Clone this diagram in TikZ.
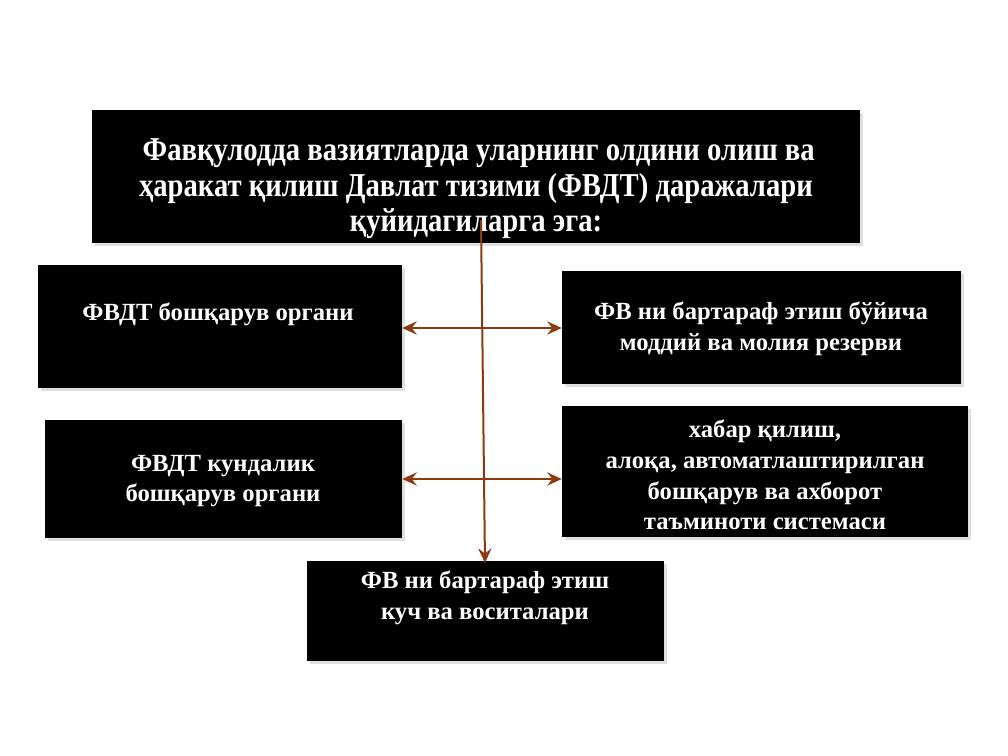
\documentclass[tikz,border=0pt]{standalone}
\usepackage{fontspec}
\setmainfont{Liberation Serif}
\newfontfamily\titlefont[FakeStretch=0.86]{Liberation Serif}
\usetikzlibrary{arrows.meta,shadows}
\definecolor{arrowbrown}{HTML}{8B3A12}
\tikzset{
  box/.style={fill=black,draw=none,inner sep=0pt,drop shadow={shadow xshift=2pt,shadow yshift=-2pt,opacity=0.25}},
  boxtext/.style={text=white,align=center,font=\bfseries\fontsize{18.5}{23}\selectfont,inner sep=0pt},
  conn/.style={draw=arrowbrown,line width=1.5pt,-{Stealth[length=11pt,width=10pt,inset=4pt]}},
  dconn/.style={draw=arrowbrown,line width=1.6pt,{Stealth[length=11pt,width=10pt,inset=4pt]}-{Stealth[length=11pt,width=10pt,inset=4pt]}}
}
\begin{document}
\begin{tikzpicture}[x=0.75pt,y=-0.75pt]
\useasboundingbox (0,0) rectangle (1008,756);
% boxes
\node[box,minimum width=576pt,minimum height=99.75pt] (title) at (476,176.5) {};
\node[box,minimum width=273pt,minimum height=92.25pt] (b1) at (220,326.5) {};
\node[box,minimum width=299.25pt,minimum height=84.75pt] (b2) at (761.5,327.5) {};
\node[box,minimum width=267.75pt,minimum height=88.5pt] (b3) at (223.5,479) {};
\node[box,minimum width=304.5pt,minimum height=98.25pt] (b4) at (765,471.5) {};
\node[box,minimum width=267.75pt,minimum height=75pt] (b5) at (485.5,611) {};
% texts
\node[text=white,align=center,font=\titlefont\bfseries\fontsize{25}{26.5}\selectfont,inner sep=0pt] (t0) at (476,189)
 {\,Фавқулодда вазиятларда уларнинг олдини олиш ва\\ ҳаракат қилиш Давлат тизими (ФВДТ) даражалари\\ қуйидагиларга эга:};
\node[boxtext] (t1) at (218,314) {ФВДТ бошқарув органи};
\node[boxtext] (t2) at (761,329) {ФВ ни бартараф этиш бўйича\\ моддий ва молия резерви};
\node[boxtext] (t3) at (223,481) {ФВДТ кундалик\\ бошқарув органи};
\node[boxtext] (t4) at (765,475) {хабар қилиш,\\ алоқа, автоматлаштирилган\\ бошқарув ва ахборот\\ таъминоти системаси};
\node[boxtext] (t5) at (485,598) {ФВ ни бартараф этиш\\ куч ва воситалари};
% connectors
\coordinate (vtop) at (481,220);
\coordinate (vbot) at (485,563);
\draw[conn] (vtop) -- (vbot);
\draw[dconn] (b1.east |- 0,328) -- (b2.west |- 0,328);
\draw[dconn] (b3.east |- 0,479) -- (b4.west |- 0,479);
\end{tikzpicture}
\end{document}
